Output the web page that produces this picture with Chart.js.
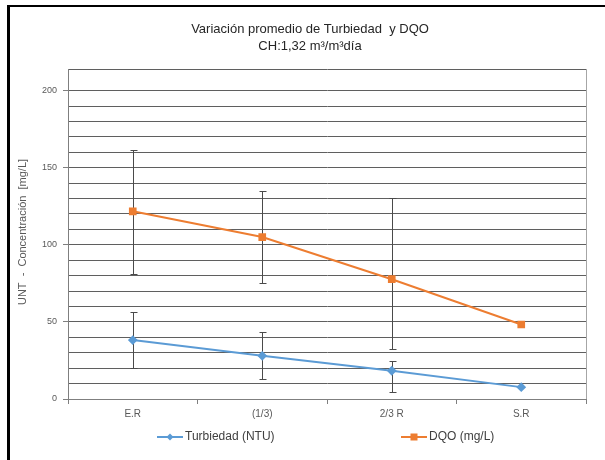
<!DOCTYPE html>
<html>
<head>
<meta charset="utf-8">
<script src="https://cdn.jsdelivr.net/npm/chart.js@4"></script>
<style>
  html, body { margin: 0; padding: 0; background: #fff; }
  #wrap { position: relative; width: 605px; height: 460px; }
  #frame { position: absolute; left: 7px; top: 5px; right: 0; bottom: 0;
           border-top: 2px solid #000; border-left: 3px solid #000; pointer-events: none; }
  canvas { position: absolute; left: 0; top: 0; }
</style>
</head>
<body>
<div id="wrap">
  <canvas id="chart" width="605" height="460"></canvas>
  <div id="frame"></div>
</div>
<script>
const categories = ["E.R", "(1/3)", "2/3 R", "S.R"];

const turbiedad = [38.2, 28, 18.3, 7.7];
const turbHigh = [56.5, 43.6, 24.4, null];
const turbLow = [19.9, 12.7, 4.3, null];

const dqo = [121.7, 105, 77.7, 48.3];
const dqoHigh = [161.6, 134.6, 130.3, null];
const dqoLow = [81.3, 75.1, 32.2, null];

const FONT = '"Liberation Sans", Arial, sans-serif';
const BLUE = "#5B9BD5";
const ORANGE = "#ED7D31";

const errorBars = {
  id: "errorBars",
  beforeDatasetsDraw(chart) {
    const { ctx, scales: { x, y } } = chart;
    ctx.save();
    ctx.strokeStyle = "#4a4a4a";
    ctx.lineWidth = 1;
    [[turbLow, turbHigh], [dqoLow, dqoHigh]].forEach(([lo, hi]) => {
      lo.forEach((v, i) => {
        if (v == null) return;
        const px = Math.round(x.getPixelForValue(i)) + 0.5;
        const y1 = Math.round(y.getPixelForValue(hi[i])) + 0.5;
        const y2 = Math.round(y.getPixelForValue(v)) + 0.5;
        ctx.beginPath();
        ctx.moveTo(px, y1); ctx.lineTo(px, y2);
        ctx.moveTo(px - 3, y1); ctx.lineTo(px + 4, y1);
        ctx.moveTo(px - 3, y2); ctx.lineTo(px + 4, y2);
        ctx.stroke();
      });
    });
    // right border of the plot area
    const a = chart.chartArea;
    ctx.strokeStyle = "#a6a6a6";
    ctx.beginPath();
    ctx.moveTo(Math.round(a.right) + 0.5, a.top);
    ctx.lineTo(Math.round(a.right) + 0.5, a.bottom);
    ctx.stroke();
    ctx.restore();
  }
};

const texts = {
  id: "texts",
  afterDraw(chart) {
    const ctx = chart.ctx;
    ctx.save();
    ctx.fillStyle = "#262626";
    ctx.textAlign = "center";
    ctx.textBaseline = "middle";
    ctx.font = "13px " + FONT;
    ctx.fillText("Variación promedio de Turbiedad  y DQO", 310, 29);
    ctx.fillText("CH:1,32 m³/m³día", 310, 46);

    ctx.fillStyle = "#595959";
    ctx.font = "11px " + FONT;
    ctx.translate(23, 232);
    ctx.rotate(-Math.PI / 2);
    ctx.fillText("UNT  -  Concentración  [mg/L]", 0, 0);
    ctx.restore();

    // legend
    ctx.save();
    ctx.font = "12px " + FONT;
    ctx.textBaseline = "middle";
    ctx.textAlign = "left";
    const ly = 437;
    const items = [
      { label: "Turbiedad (NTU)", color: BLUE, x: 157, shape: "diamond" },
      { label: "DQO (mg/L)", color: ORANGE, x: 401, shape: "square" }
    ];
    items.forEach(it => {
      ctx.strokeStyle = it.color;
      ctx.fillStyle = it.color;
      ctx.lineWidth = 2;
      ctx.beginPath();
      ctx.moveTo(it.x, ly); ctx.lineTo(it.x + 26, ly);
      ctx.stroke();
      const cx = it.x + 13;
      ctx.beginPath();
      if (it.shape === "diamond") {
        ctx.moveTo(cx, ly - 3.5); ctx.lineTo(cx + 3.5, ly);
        ctx.lineTo(cx, ly + 3.5); ctx.lineTo(cx - 3.5, ly);
        ctx.closePath(); ctx.fill();
      } else {
        ctx.fillRect(cx - 3.5, ly - 3.5, 7, 7);
      }
      ctx.fillStyle = "#404040";
      ctx.fillText(it.label, it.x + 28, ly);
    });
    ctx.restore();
  }
};

new Chart(document.getElementById("chart").getContext("2d"), {
  type: "line",
  plugins: [errorBars, texts],
  options: {
    responsive: false,
    animation: false,
    layout: { padding: { left: 0, right: 19, top: 69, bottom: 31 } },
    plugins: {
      legend: { display: false },
      title: { display: false },
      tooltip: { enabled: false }
    },
    scales: {
      x: {
        offset: true,
        afterFit: s => { s.height = 30; },
        grid: {
          offset: true,
          drawOnChartArea: false,
          tickLength: 5,
          color: "#7f7f7f"
        },
        border: { color: "#7f7f7f" },
        ticks: { color: "#595959", font: { family: FONT, size: 10 }, padding: 4 }
      },
      y: {
        min: 0,
        max: 214,
        afterFit: s => { s.width = 68; },
        grid: {
          color: "#5f5f5f",
          tickLength: 5,
          tickColor: c => (c.tick && c.tick.value % 50 === 0 ? "#7f7f7f" : "rgba(0,0,0,0)")
        },
        border: { color: "#7f7f7f" },
        ticks: {
          stepSize: 10,
          autoSkip: false,
          color: "#595959",
          font: { family: FONT, size: 9 },
          padding: 6,
          callback: v => (v % 50 === 0 ? v : "")
        }
      }
    }
  },
  data: {
    labels: categories,
    datasets: [
      {
        label: "Turbiedad (NTU)",
        data: turbiedad,
        borderColor: BLUE,
        backgroundColor: BLUE,
        borderWidth: 2,
        pointStyle: "rectRot",
        pointRadius: 3.5,
        tension: 0
      },
      {
        label: "DQO (mg/L)",
        data: dqo,
        borderColor: ORANGE,
        backgroundColor: ORANGE,
        borderWidth: 2,
        pointStyle: "rect",
        pointRadius: 4,
        tension: 0
      }
    ]
  }
});
</script>
</body>
</html>
